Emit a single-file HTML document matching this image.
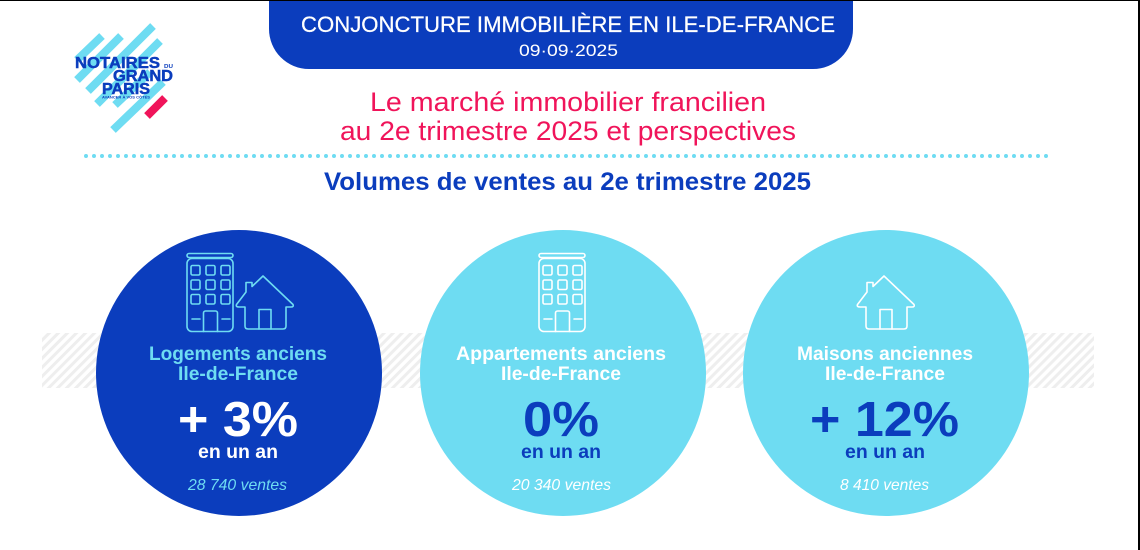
<!DOCTYPE html>
<html lang="fr">
<head>
<meta charset="utf-8">
<title>Conjoncture immobilière en Ile-de-France</title>
<style>
html,body{margin:0;padding:0;background:#fff;width:1140px;height:550px;overflow:hidden}
svg{display:block}
text{font-family:"Liberation Sans",sans-serif}
.b{font-weight:700}
.i{font-style:italic}
</style>
</head>
<body>
<svg xmlns="http://www.w3.org/2000/svg" width="1140" height="550" viewBox="0 0 1140 550">
<defs>
  <pattern id="hatch" width="6.4" height="6.4" patternUnits="userSpaceOnUse" patternTransform="rotate(45)">
    <rect width="6.4" height="6.4" fill="#fff"/>
    <rect width="3" height="6.4" fill="#eeeeee"/>
  </pattern>
  <g id="building" fill="none" stroke-width="1.6" stroke-linejoin="round" stroke-linecap="round">
    <rect x="187" y="253.5" width="46" height="4" rx="2"/>
    <rect x="187" y="258.5" width="46" height="73" rx="5"/>
    <rect x="191" y="265.5" width="9" height="9.5" rx="1.5"/><rect x="206" y="265.5" width="9" height="9.5" rx="1.5"/><rect x="221" y="265.5" width="9" height="9.5" rx="1.5"/>
    <rect x="191" y="280" width="9" height="9.5" rx="1.5"/><rect x="206" y="280" width="9" height="9.5" rx="1.5"/><rect x="221" y="280" width="9" height="9.5" rx="1.5"/>
    <rect x="191" y="294.5" width="9" height="9.5" rx="1.5"/><rect x="206" y="294.5" width="9" height="9.5" rx="1.5"/><rect x="221" y="294.5" width="9" height="9.5" rx="1.5"/>
    <path d="M203.500 331.500V313a2 2 0 0 1 2-2h10a2 2 0 0 1 2 2v18.500"/>
    <path d="M192 319h8M222 319h8"/>
  </g>
  <g id="house" fill="none" stroke-width="1.6" stroke-linejoin="round" stroke-linecap="round">
    <path d="M246 292V282.500h6v4l11-10.500 30 28.500q1 2.500-2 2.500h-5v19q0 3-3 3H248q-3 0-3-3v-19h-6q-3.500 0-2.500-2.500z"/>
    <path d="M259 329V309.500h12V329"/>
  </g>
</defs>

<rect x="0" y="0" width="1140" height="550" fill="#fff"/>
<rect x="42" y="333" width="1052" height="55" fill="url(#hatch)"/>

<path d="M269 0H853V29a40 40 0 0 1-40 40H309a40 40 0 0 1-40-40z" fill="#0b3dbd"/>
<text x="301" y="32" font-size="22" fill="#fff" stroke="#fff" stroke-width="0.25" textLength="534" lengthAdjust="spacingAndGlyphs">CONJONCTURE IMMOBILIÈRE EN ILE-DE-FRANCE</text>
<text x="519" y="56" font-size="17" fill="#fff" textLength="99" lengthAdjust="spacingAndGlyphs">09·09·2025</text>

<g>
  <g stroke="#6edcf2" stroke-width="8" fill="none">
    <path d="M102 36L77 60M121 36L77 80M153 26L88 91M160 41L97 104M150 72L115 105M163 82L113 130"/>
  </g>
  <path d="M147 116L165 98" stroke="#f0145a" stroke-width="8"/>
  <g fill="#0b3dbd" stroke="#0b3dbd" stroke-width="0.5">
    <text x="75" y="68" font-size="16" class="b" textLength="85" lengthAdjust="spacingAndGlyphs">NOTAIRES</text>
    <text x="113" y="81" font-size="16" class="b" textLength="60" lengthAdjust="spacingAndGlyphs">GRAND</text>
    <text x="102" y="94" font-size="16" class="b" textLength="48" lengthAdjust="spacingAndGlyphs">PARIS</text>
  </g>
  <text x="164" y="68" font-size="5.500" class="b" fill="#0b3dbd" textLength="9" lengthAdjust="spacingAndGlyphs">DU</text>
  <text x="102" y="98.500" font-size="3.800" class="b" fill="#0b3dbd" textLength="48" lengthAdjust="spacingAndGlyphs">AVANCER À VOS CÔTÉS</text>
</g>

<text x="370" y="111" font-size="27" fill="#f0145a" textLength="396" lengthAdjust="spacingAndGlyphs">Le marché immobilier francilien</text>
<text x="340" y="140" font-size="27" fill="#f0145a" textLength="456" lengthAdjust="spacingAndGlyphs">au 2e trimestre 2025 et perspectives</text>
<line x1="86" y1="156" x2="1048" y2="156" stroke="#6edcf2" stroke-width="4" stroke-linecap="round" stroke-dasharray="0 8"/>
<text x="324" y="190" font-size="25" class="b" fill="#0b3dbd" textLength="487" lengthAdjust="spacingAndGlyphs">Volumes de ventes au 2e trimestre 2025</text>

<g>
  <circle cx="239" cy="373" r="143" fill="#0b3dbd"/>
  <use href="#building" stroke="#6edcf2"/>
  <use href="#house" stroke="#6edcf2"/>
  <text x="149" y="360" font-size="19" class="b" fill="#6edcf2" textLength="178" lengthAdjust="spacingAndGlyphs">Logements anciens</text>
  <text x="178" y="380" font-size="19" class="b" fill="#6edcf2" textLength="120" lengthAdjust="spacingAndGlyphs">Ile-de-France</text>
  <text x="178" y="436" font-size="49" class="b" fill="#fff" textLength="120" lengthAdjust="spacingAndGlyphs">+ 3%</text>
  <text x="198" y="458" font-size="19.500" class="b" fill="#fff" textLength="80" lengthAdjust="spacingAndGlyphs">en un an</text>
  <text x="188" y="490" font-size="16" class="i" fill="#6edcf2" textLength="99" lengthAdjust="spacingAndGlyphs">28 740 ventes</text>
</g>

<g>
  <circle cx="563" cy="373" r="143" fill="#6edcf2"/>
  <use href="#building" x="352" stroke="#fff"/>
  <text x="456" y="360" font-size="19" class="b" fill="#fff" textLength="210" lengthAdjust="spacingAndGlyphs">Appartements anciens</text>
  <text x="501" y="380" font-size="19" class="b" fill="#fff" textLength="120" lengthAdjust="spacingAndGlyphs">Ile-de-France</text>
  <text x="523" y="436" font-size="49" class="b" fill="#0b3dbd" textLength="76" lengthAdjust="spacingAndGlyphs">0%</text>
  <text x="521" y="458" font-size="19.500" class="b" fill="#0b3dbd" textLength="80" lengthAdjust="spacingAndGlyphs">en un an</text>
  <text x="512" y="490" font-size="16" class="i" fill="#fff" textLength="99" lengthAdjust="spacingAndGlyphs">20 340 ventes</text>
</g>

<g>
  <circle cx="886" cy="373" r="143" fill="#6edcf2"/>
  <use href="#house" x="621" stroke="#fff"/>
  <text x="797" y="360" font-size="19" class="b" fill="#fff" textLength="176" lengthAdjust="spacingAndGlyphs">Maisons anciennes</text>
  <text x="825" y="380" font-size="19" class="b" fill="#fff" textLength="120" lengthAdjust="spacingAndGlyphs">Ile-de-France</text>
  <text x="810" y="436" font-size="49" class="b" fill="#0b3dbd" textLength="149" lengthAdjust="spacingAndGlyphs">+ 12%</text>
  <text x="845" y="458" font-size="19.500" class="b" fill="#0b3dbd" textLength="80" lengthAdjust="spacingAndGlyphs">en un an</text>
  <text x="840" y="490" font-size="16" class="i" fill="#fff" textLength="89" lengthAdjust="spacingAndGlyphs">8 410 ventes</text>
</g>

<rect x="0" y="0" width="1140" height="1" fill="#000"/>
<rect x="1138" y="0" width="2" height="550" fill="#000"/>
</svg>
</body>
</html>
